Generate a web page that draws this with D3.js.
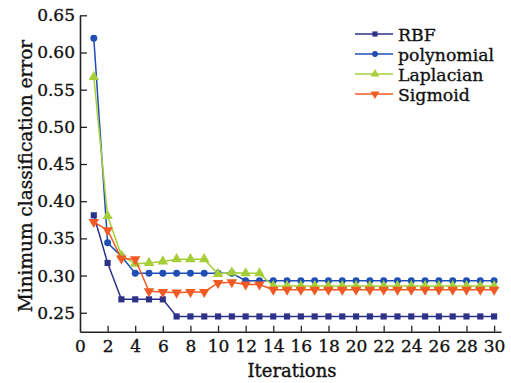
<!DOCTYPE html>
<html><head><meta charset="utf-8">
<script src="https://cdn.jsdelivr.net/npm/d3@7"></script>
<style>html,body{margin:0;padding:0;background:#fff;}svg{display:block;}</style>
</head><body>
<svg id="c" width="511" height="383"></svg>
<script>
const iterations = d3.range(1, 31);
const rbf = [0.381,0.317,0.268,0.268,0.268,0.268,0.245,0.245,0.245,0.245,0.245,0.245,0.245,0.245,0.245,0.245,0.245,0.245,0.245,0.245,0.245,0.245,0.245,0.245,0.245,0.245,0.245,0.245,0.245,0.245];
const polynomial = [0.619,0.344,0.326,0.303,0.303,0.303,0.303,0.303,0.303,0.303,0.303,0.293,0.293,0.293,0.293,0.293,0.293,0.293,0.293,0.293,0.293,0.293,0.293,0.293,0.293,0.293,0.293,0.293,0.293,0.293];
const laplacian = [0.567,0.380,0.327,0.316,0.317,0.319,0.322,0.322,0.322,0.302,0.304,0.303,0.303,0.286,0.286,0.286,0.286,0.286,0.286,0.286,0.286,0.286,0.286,0.286,0.286,0.286,0.286,0.286,0.286,0.286];
const sigmoid = [0.372,0.361,0.323,0.322,0.279,0.278,0.277,0.278,0.278,0.290,0.291,0.288,0.288,0.281,0.281,0.281,0.281,0.281,0.281,0.281,0.281,0.281,0.281,0.281,0.281,0.281,0.281,0.281,0.281,0.281];
const xTicks = [0,2,4,6,8,10,12,14,16,18,20,22,24,26,28,30];
const yTicks = [0.25,0.30,0.35,0.40,0.45,0.50,0.55,0.60,0.65];

const seriesList = [
  {name:"RBF", values:rbf, color:"#2e3188", marker:"square"},
  {name:"polynomial", values:polynomial, color:"#1f4fb4", marker:"circle"},
  {name:"Laplacian", values:laplacian, color:"#a6ce39", marker:"triangle"},
  {name:"Sigmoid", values:sigmoid, color:"#f15a24", marker:"tridown"}
];

const FONT = "DejaVu Serif";
const svg = d3.select("#c");
const x = d3.scaleLinear().domain([0, 30.5]).range([80, 501]);
const y = d3.scaleLinear().domain([0.2245, 0.65]).range([331.7, 15.3]);

const symType = {square:d3.symbolSquare, circle:d3.symbolCircle, triangle:d3.symbolTriangle, tridown:d3.symbolTriangle};
const symSize = {square:38, circle:38, triangle:48, tridown:48};
function marker(sel, s, cx, cy, k) {
  sel.append("path")
    .attr("d", d3.symbol().type(symType[s.marker]).size(symSize[s.marker] * (k || 1))())
    .attr("transform", `translate(${cx},${cy})` + (s.marker==="tridown" ? " rotate(180)" : ""))
    .attr("fill", s.color);
}
function textStyle(sel, size) {
  sel.attr("font-family", FONT).attr("font-size", size).attr("fill", "#111")
    .attr("stroke", "#111").attr("stroke-width", 0.35);
}

// axes
const gx = svg.append("g").attr("transform", `translate(0,${y.range()[0]})`)
  .call(d3.axisBottom(x).tickValues(xTicks).tickFormat(d3.format("d")).tickSizeInner(-6).tickSizeOuter(0).tickPadding(8));
const gy = svg.append("g").attr("transform", `translate(${x.range()[0]},0)`)
  .call(d3.axisLeft(y).tickValues(yTicks).tickFormat(d3.format(".2f")).tickSizeInner(-7).tickSizeOuter(0).tickPadding(5));
[gx, gy].forEach(g => {
  g.selectAll("path.domain").attr("stroke", "#222").attr("stroke-width", 1.6);
  g.selectAll(".tick line").attr("stroke", "#222").attr("stroke-width", 1.3);
  textStyle(g.selectAll("text"), 17);
});
gx.selectAll(".tick").filter(d => d === 0).select("line").remove();

// lines
const line = d3.line().x((d, i) => x(iterations[i])).y(d => y(d));
seriesList.forEach(s => {
  svg.append("path").datum(s.values).attr("d", line)
    .attr("fill", "none").attr("stroke", s.color).attr("stroke-width", 1.5);
  const g = svg.append("g");
  s.values.forEach((v, i) => marker(g, s, x(iterations[i]), y(v)));
});

// legend
const lg = svg.append("g");
seriesList.forEach((s, i) => {
  const ly = 34 + i * 20;
  lg.append("line").attr("x1", 355).attr("x2", 393).attr("y1", ly).attr("y2", ly)
    .attr("stroke", s.color).attr("stroke-width", 1.5);
  marker(lg, s, 375, ly, 0.7);
  textStyle(lg.append("text").attr("x", 398).attr("y", ly + 6.5).text(s.name), 17.3);
});

// titles
textStyle(svg.append("text").attr("x", 292).attr("y", 377).attr("text-anchor", "middle").text("Iterations"), 18);
textStyle(svg.append("text").attr("transform", "translate(32,176) rotate(-90)").attr("text-anchor", "middle")
  .text("Minimum classification error"), 18.5);
</script>
</body></html>
